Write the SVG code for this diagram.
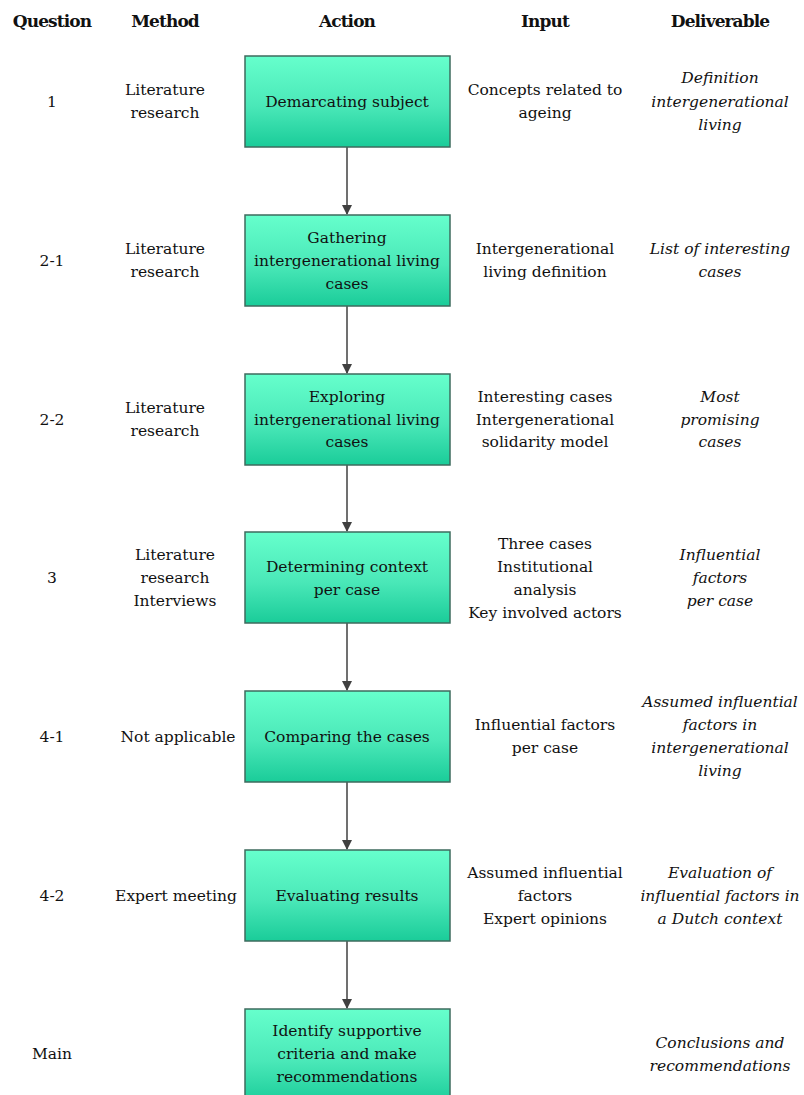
<svg xmlns="http://www.w3.org/2000/svg" width="804" height="1095" viewBox="0 0 804 1095">
  <defs>
    <linearGradient id="boxFill" x1="0" y1="0" x2="0" y2="1">
      <stop offset="0" stop-color="#66FFCC"/>
      <stop offset="0.55" stop-color="#4AE8B8"/>
      <stop offset="1" stop-color="#1ACC99"/>
    </linearGradient>
    <marker id="arrow" markerWidth="10" markerHeight="10" refX="9" refY="5" orient="auto" markerUnits="userSpaceOnUse">
      <path d="M0,0 L10,5 L0,10 Z" fill="#404040"/>
    </marker>
    <style>
      text { font-family: "DejaVu Serif", "Liberation Serif", serif; font-size: 15.5px; fill: #111; text-anchor: middle; }
      .head { font-weight: bold; font-size: 17px; letter-spacing: -0.9px; }
      .deliv { font-style: italic; }
      .box rect { fill: url(#boxFill); stroke: #3E6B5E; stroke-width: 1.5; }
      .conn line { stroke: #404040; stroke-width: 1.5; marker-end: url(#arrow); }
    </style>
  </defs>
  <rect width="804" height="1095" fill="#fff"/>

  <!-- column headings -->
  <g id="headings">
    <text class="head" x="52" y="27">Question</text>
    <text class="head" x="165" y="27">Method</text>
    <text class="head" x="347" y="27">Action</text>
    <text class="head" x="545" y="27">Input</text>
    <text class="head" x="720" y="27">Deliverable</text>
  </g>

  <!-- connectors between action steps -->
  <g id="connectors" class="conn">
    <line x1="347" y1="147" x2="347" y2="214"/>
    <line x1="347" y1="306" x2="347" y2="373"/>
    <line x1="347" y1="465" x2="347" y2="531"/>
    <line x1="347" y1="623" x2="347" y2="690"/>
    <line x1="347" y1="782" x2="347" y2="849"/>
    <line x1="347" y1="941" x2="347" y2="1008"/>
  </g>

  <!-- row 1 -->
  <g id="row1">
    <text x="52" y="107">1</text>
    <text x="165" y="95">Literature</text>
    <text x="165" y="118">research</text>
    <g id="action1" class="box">
      <rect x="245" y="56" width="205" height="91"/>
      <text x="347" y="107">Demarcating subject</text>
    </g>
    <text x="545" y="95">Concepts related to</text>
    <text x="545" y="118">ageing</text>
    <text class="deliv" x="720" y="83">Definition</text>
    <text class="deliv" x="720" y="107">intergenerational</text>
    <text class="deliv" x="720" y="130">living</text>
  </g>

  <!-- row 2 -->
  <g id="row2">
    <text x="52" y="266">2-1</text>
    <text x="165" y="254">Literature</text>
    <text x="165" y="277">research</text>
    <g id="action2" class="box">
      <rect x="245" y="215" width="205" height="91"/>
      <text x="347" y="243">Gathering</text>
      <text x="347" y="266">intergenerational living</text>
      <text x="347" y="289">cases</text>
    </g>
    <text x="545" y="254">Intergenerational</text>
    <text x="545" y="277">living definition</text>
    <text class="deliv" x="720" y="254">List of interesting</text>
    <text class="deliv" x="720" y="277">cases</text>
  </g>

  <!-- row 3 -->
  <g id="row3">
    <text x="52" y="425">2-2</text>
    <text x="165" y="413">Literature</text>
    <text x="165" y="436">research</text>
    <g id="action3" class="box">
      <rect x="245" y="374" width="205" height="91"/>
      <text x="347" y="402">Exploring</text>
      <text x="347" y="425">intergenerational living</text>
      <text x="347" y="447">cases</text>
    </g>
    <text x="545" y="402">Interesting cases</text>
    <text x="545" y="425">Intergenerational</text>
    <text x="545" y="447">solidarity model</text>
    <text class="deliv" x="720" y="402">Most</text>
    <text class="deliv" x="720" y="425">promising</text>
    <text class="deliv" x="720" y="447">cases</text>
  </g>

  <!-- row 4 -->
  <g id="row4">
    <text x="52" y="583">3</text>
    <text x="175" y="560">Literature</text>
    <text x="175" y="583">research</text>
    <text x="175" y="606">Interviews</text>
    <g id="action4" class="box">
      <rect x="245" y="532" width="205" height="91"/>
      <text x="347" y="572">Determining context</text>
      <text x="347" y="595">per case</text>
    </g>
    <text x="545" y="549">Three cases</text>
    <text x="545" y="572">Institutional</text>
    <text x="545" y="595">analysis</text>
    <text x="545" y="618">Key involved actors</text>
    <text class="deliv" x="720" y="560">Influential</text>
    <text class="deliv" x="720" y="583">factors</text>
    <text class="deliv" x="720" y="606">per case</text>
  </g>

  <!-- row 5 -->
  <g id="row5">
    <text x="52" y="742">4-1</text>
    <text x="178" y="742">Not applicable</text>
    <g id="action5" class="box">
      <rect x="245" y="691" width="205" height="91"/>
      <text x="347" y="742">Comparing the cases</text>
    </g>
    <text x="545" y="730">Influential factors</text>
    <text x="545" y="753">per case</text>
    <text class="deliv" x="720" y="707">Assumed influential</text>
    <text class="deliv" x="720" y="730">factors in</text>
    <text class="deliv" x="720" y="753">intergenerational</text>
    <text class="deliv" x="720" y="776">living</text>
  </g>

  <!-- row 6 -->
  <g id="row6">
    <text x="52" y="901">4-2</text>
    <text x="176" y="901">Expert meeting</text>
    <g id="action6" class="box">
      <rect x="245" y="850" width="205" height="91"/>
      <text x="347" y="901">Evaluating results</text>
    </g>
    <text x="545" y="878">Assumed influential</text>
    <text x="545" y="901">factors</text>
    <text x="545" y="924">Expert opinions</text>
    <text class="deliv" x="720" y="878">Evaluation of</text>
    <text class="deliv" x="720" y="901">influential factors in</text>
    <text class="deliv" x="720" y="924">a Dutch context</text>
  </g>

  <!-- row 7 -->
  <g id="row7">
    <text x="52" y="1059">Main</text>
    <g id="action7" class="box">
      <rect x="245" y="1009" width="205" height="95"/>
      <text x="347" y="1036">Identify supportive</text>
      <text x="347" y="1059">criteria and make</text>
      <text x="347" y="1082">recommendations</text>
    </g>
    <text class="deliv" x="720" y="1048">Conclusions and</text>
    <text class="deliv" x="720" y="1071">recommendations</text>
  </g>
</svg>
